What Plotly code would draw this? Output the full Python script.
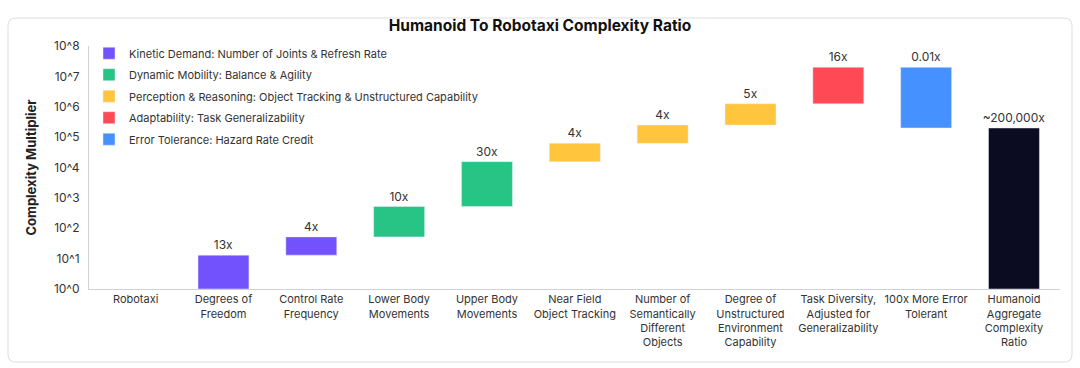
import plotly.graph_objects as go

categories = [
    "Robotaxi",
    "Degrees of<br>Freedom",
    "Control Rate<br>Frequency",
    "Lower Body<br>Movements",
    "Upper Body<br>Movements",
    "Near Field<br>Object Tracking",
    "Number of<br>Semantically<br>Different<br>Objects",
    "Degree of<br>Unstructured<br>Environment<br>Capability",
    "Task Diversity,<br>Adjusted for<br>Generalizability",
    "100x More Error<br>Tolerant",
    "Humanoid<br>Aggregate<br>Complexity<br>Ratio",
]
# multipliers per step (index 1..9)
multipliers = [13, 4, 10, 30, 4, 4, 5, 16, 0.01]
step_labels = ["13x", "4x", "10x", "30x", "4x", "4x", "5x", "16x", "0.01x"]
groups = ["kin", "kin", "dyn", "dyn", "per", "per", "per", "ada", "err"]
aggregate_value = 200000
aggregate_label = "~200,000x"

group_names = {
    "kin": "Kinetic Demand: Number of Joints & Refresh Rate",
    "dyn": "Dynamic Mobility: Balance & Agility",
    "per": "Perception & Reasoning: Object Tracking & Unstructured Capability",
    "ada": "Adaptability: Task Generalizability",
    "err": "Error Tolerance: Hazard Rate Credit",
}
group_colors = {"kin": "#7152FD", "dyn": "#27C486", "per": "#FFC53D", "ada": "#FF4A55", "err": "#4491FF"}

# compute waterfall
starts, ends = [], []
cur = 1.0
for m in multipliers:
    starts.append(cur)
    cur = cur * m
    ends.append(cur)

fig = go.Figure()
BW = 0.58
for g in ["kin", "dyn", "per", "ada", "err"]:
    xs, bases, hs, txt = [], [], [], []
    for i, gg in enumerate(groups):
        if gg != g:
            continue
        lo, hi = min(starts[i], ends[i]), max(starts[i], ends[i])
        xs.append(categories[i + 1]); bases.append(lo); hs.append(hi - lo); txt.append(step_labels[i])
    fig.add_trace(go.Bar(
        x=xs, y=hs, base=bases, name=group_names[g], marker_color=group_colors[g],
        legendgroup=g, width=BW, text=txt, textposition="outside", cliponaxis=False,
        constraintext="none", textfont=dict(size=12, color="#333333", family="Inter"),
        hoverinfo="skip",
    ))
fig.add_trace(go.Bar(
    x=[categories[-1]], y=[aggregate_value - 1], base=[1], marker_color="#0B0C22",
    width=BW, text=[aggregate_label], textposition="outside", cliponaxis=False, constraintext="none",
    textfont=dict(size=12, color="#333333", family="Inter"), showlegend=False, hoverinfo="skip",
))

W, H = 1080, 368
L, R, T, B = 89, 20, 46, 79
pw, ph = W - L - R, H - T - B
def px(x): return (x - L) / pw
def py(y): return (H - B - y) / ph
x0, x1, y0, y1, r = 8, 1072, 18, 362, 8
path = (f"M {px(x0+r)},{py(y0)} L {px(x1-r)},{py(y0)} Q {px(x1)},{py(y0)} {px(x1)},{py(y0+r)} "
        f"L {px(x1)},{py(y1-r)} Q {px(x1)},{py(y1)} {px(x1-r)},{py(y1)} "
        f"L {px(x0+r)},{py(y1)} Q {px(x0)},{py(y1)} {px(x0)},{py(y1-r)} "
        f"L {px(x0)},{py(y0+r)} Q {px(x0)},{py(y0)} {px(x0+r)},{py(y0)} Z")

fig.update_layout(
    width=W, height=H,
    margin=dict(l=L, r=R, t=T, b=B, autoexpand=False),
    paper_bgcolor="white", plot_bgcolor="white",
    barmode="overlay",
    font=dict(family="Inter", color="#333333", size=11),
    title=dict(text="<b>Humanoid To Robotaxi Complexity Ratio</b>", x=0.5, xanchor="center",
               y=1 - 26 / H, yanchor="middle", font=dict(size=15.5, color="#111111", family="Inter")),
    shapes=[dict(type="path", path=path, xref="paper", yref="paper",
                 line=dict(color="#DDDDDD", width=1), fillcolor="rgba(0,0,0,0)", layer="below")],
    legend=dict(x=px(89), y=1.03, xanchor="left", yanchor="top", bgcolor="rgba(0,0,0,0)",
                font=dict(size=11, color="#333333", family="Inter"), tracegroupgap=2.5,
                traceorder="grouped"),
    showlegend=True,
)
fig.update_xaxes(
    categoryorder="array", categoryarray=categories, tickvals=categories, ticktext=categories,
    showline=True, linecolor="#D0D0D8", linewidth=1, ticks="", showgrid=False, automargin=False,
    tickfont=dict(size=11, color="#333333", family="Inter"), range=[-0.531, 10.524],
)
fig.update_yaxes(
    type="log", range=[0, 8], tickvals=[10 ** k for k in range(9)],
    ticktext=[f"10^{k}" for k in range(9)], showline=True, linecolor="#D0D0D8", linewidth=1,
    showgrid=False, zeroline=False, ticks="", ticklabelstandoff=6, automargin=False,
    tickfont=dict(size=12, color="#333333", family="Inter"),
    title=dict(text="<b>Complexity Multiplier</b>", font=dict(size=13, color="#222222", family="Inter"), standoff=14),
)
fig.write_html("out.html", config={"displayModeBar": False},
               post_script="document.body.style.margin='0px';document.body.style.overflow='hidden';")
